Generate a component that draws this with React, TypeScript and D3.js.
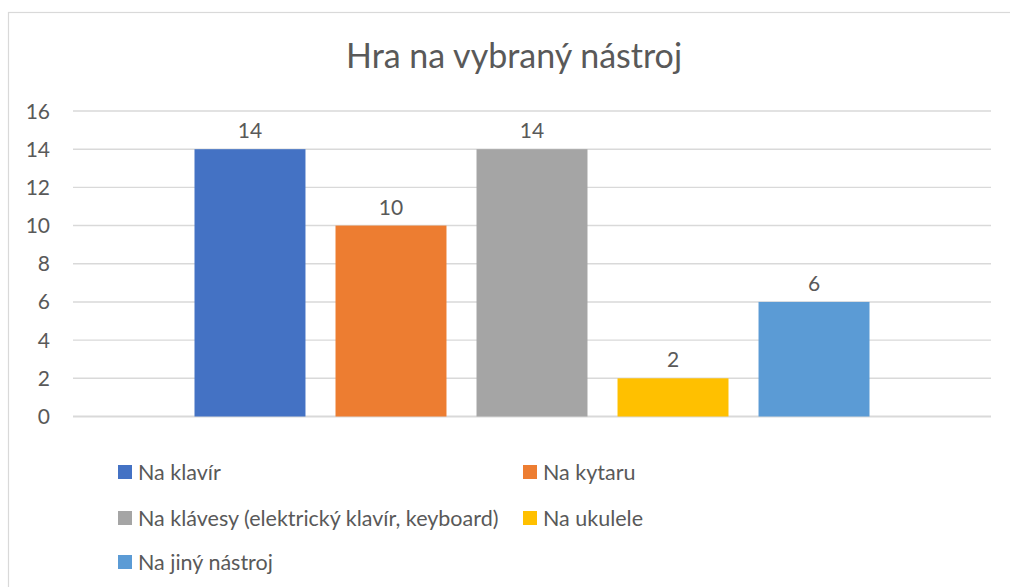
import * as d3 from "d3";

const categories = [""];
const seriesNames = [
  "Na klavír",
  "Na kytaru",
  "Na klávesy (elektrický klavír, keyboard)",
  "Na ukulele",
  "Na jiný nástroj",
];
const seriesValues = [14, 10, 14, 2, 6];
const seriesColors = ["#4472C4", "#ED7D31", "#A5A5A5", "#FFC000", "#5B9BD5"];
const yTickValues = [0, 2, 4, 6, 8, 10, 12, 14, 16];
const chartTitle = "Hra na vybraný nástroj";

const width = 1010;
const height = 587;
const plot = { left: 73, right: 991, top: 111, bottom: 416.5 };
const font = "Lato, 'Open Sans', sans-serif";
const textColor = "#595959";
const gridColor = "#d9d9d9";

// legend is a two-column grid, filled row by row
const legendCols = [118, 523];
const legendRows = [472, 518, 562];

export default function App() {
  const x0 = d3.scaleBand<string>().domain(categories).range([plot.left, plot.right]).paddingInner(0).paddingOuter(0.18);
  const x1 = d3.scaleBand<string>().domain(seriesNames).range([0, x0.bandwidth()]).paddingInner(0.213).paddingOuter(0);
  const y = d3.scaleLinear().domain([0, 16]).range([plot.bottom, plot.top]);

  return (
    <svg
      width={width}
      height={height}
      viewBox={`0 0 ${width} ${height}`}
      style={{ position: "absolute", left: 0, top: 0, background: "#fff" }}
      fontFamily={font}
    >
      <rect x={0} y={0} width={width} height={height} fill="#fff" />
      <rect x={8.5} y={12.5} width={width + 20} height={height + 20} fill="none" stroke={gridColor} strokeWidth={1.2} />

      <text x={514} y={68} textAnchor="middle" fontSize={34} fill={textColor}>
        {chartTitle}
      </text>

      {yTickValues.map((tick) => (
        <g key={`y-${tick}`}>
          <line x1={plot.left} x2={plot.right} y1={y(tick)} y2={y(tick)} stroke={gridColor} strokeWidth={tick === 0 ? 1.8 : 1.4} />
          <text x={50} y={y(tick)} dy="0.36em" textAnchor="end" fontSize={21} fill={textColor}>
            {tick}
          </text>
        </g>
      ))}

      {categories.map((cat) => (
        <g key={`cat-${cat}`} transform={`translate(${x0(cat)}, 0)`}>
          {seriesNames.map((name, i) => {
            const bx = x1(name) ?? 0;
            const v = seriesValues[i];
            return (
              <g key={name}>
                <rect x={bx} y={y(v)} width={x1.bandwidth()} height={y(0) - y(v)} fill={seriesColors[i]} />
                <text x={bx + x1.bandwidth() / 2} y={y(v) - 11} textAnchor="middle" fontSize={21} fill={textColor}>
                  {v}
                </text>
              </g>
            );
          })}
        </g>
      ))}

      {seriesNames.map((name, i) => {
        const lx = legendCols[i % 2];
        const ly = legendRows[Math.floor(i / 2)];
        return (
          <g key={`legend-${name}`} transform={`translate(${lx}, ${ly})`}>
            <rect x={0} y={-7} width={14} height={14} fill={seriesColors[i]} />
            <text x={20} y={0} dy="0.36em" fontSize={21.5} fill={textColor}>
              {name}
            </text>
          </g>
        );
      })}
    </svg>
  );
}
